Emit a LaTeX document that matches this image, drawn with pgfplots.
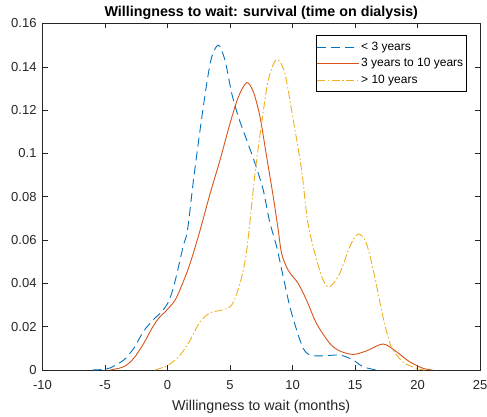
\documentclass[border=0pt]{standalone}
\usepackage{fontspec}
\setmainfont{Liberation Sans}
\usepackage{pgfplots}
\pgfplotsset{compat=1.18}

\definecolor{mlblue}{rgb}{0,0.447,0.741}
\definecolor{mlorange}{rgb}{0.85,0.325,0.098}
\definecolor{mlyellow}{rgb}{0.929,0.694,0.125}
\definecolor{axgray}{rgb}{0.15,0.15,0.15}

\begin{document}
\begin{tikzpicture}
\begin{axis}[
  scale only axis,
  width=437.5bp, height=346.5bp,
  xmin=-10, xmax=25, ymin=0, ymax=0.16,
  xtick={-10,-5,0,5,10,15,20,25},
  xticklabels={-10,-5,0,5,10,15,20,25},
  ytick={0,0.02,0.04,0.06,0.08,0.1,0.12,0.14,0.16},
  yticklabels={0,0.02,0.04,0.06,0.08,0.1,0.12,0.14,0.16},
  tick align=inside,
  major tick length=5bp,
  axis line style={axgray, line width=0.6bp},
  every tick/.style={axgray, line width=0.6bp},
  tick label style={font=\fontsize{13bp}{15bp}\selectfont, text=axgray},
  xticklabel style={anchor=base, inner sep=0pt, yshift=-19bp},
  yticklabel style={anchor=east, inner sep=0pt, xshift=-5.8bp},
  every axis title shift=0pt,
  title={Willingness to wait: survival (time on dialysis)},
  title style={font=\bfseries\fontsize{14.3bp}{16bp}\selectfont, at={(axis description cs:0.5,1)}, anchor=base, yshift=7bp, inner sep=0pt},
  xlabel={Willingness to wait (months)},
  xlabel style={font=\fontsize{14.3bp}{16bp}\selectfont, text=axgray, at={(axis description cs:0.5,0)}, anchor=base, yshift=-40bp, inner sep=0pt},
  legend cell align=left,
  legend style={
    at={(rel axis cs:1,1)}, anchor=north east, xshift=-14bp, yshift=-11.5bp,
    draw=black, line width=0.5bp,
    font=\fontsize{12bp}{14bp}\selectfont,
    inner xsep=1bp, inner ysep=3.5bp,
    row sep=0pt,
    nodes={inner xsep=1.5bp, inner ysep=2.5bp, text height=9bp, text depth=2.5bp},
  },
  legend image code/.code={\draw[#1] (0bp,0bp) -- (42bp,0bp);},
]

% < 3 years
\addplot[mlblue, line width=0.9bp, dash pattern=on 9bp off 5bp, smooth] coordinates {
(-6.0,0) (-5.0,0.0003) (-4.57,0.001) (-3.5,0.0046) (-2.7,0.010) (-1.9,0.018)
(-1.1,0.0234) (-0.45,0.027) (0.08,0.0315) (0.49,0.0384) (0.88,0.0477)
(1.28,0.0577) (1.6,0.0646) (2.08,0.0877) (2.61,0.111) (3.14,0.1323)
(3.54,0.1446) (4.07,0.150) (4.6,0.143) (5.14,0.1277) (5.67,0.1169)
(6.34,0.1061) (7.0,0.0954) (7.66,0.0831) (8.15,0.069) (8.73,0.0569)
(9.26,0.043) (9.79,0.0292) (10.33,0.0185) (10.86,0.010) (11.39,0.0069)
(12.45,0.0065) (13.78,0.0069) (14.85,0.0046) (15.64,0.0015) (16.7,0)
};
\addlegendentry{< 3 years}

% 3 years to 10 years
\addplot[mlorange, line width=0.9bp, smooth] coordinates {
(-4.6,0) (-3.5,0.0015) (-2.7,0.0054) (-1.9,0.0123) (-1.25,0.0192)
(-0.72,0.0238) (-0.05,0.0277) (0.61,0.0323) (1.15,0.0392) (1.81,0.0492)
(2.61,0.0646) (3.41,0.0815) (4.2,0.0969) (5.0,0.1138) (5.67,0.1261)
(6.34,0.1327) (6.87,0.1284) (7.4,0.1169) (7.93,0.0985) (8.46,0.080)
(8.86,0.0646) (9.13,0.0538) (9.66,0.046) (10.45,0.040) (11.12,0.0323)
(11.92,0.0215) (12.98,0.0123) (13.78,0.0088) (14.85,0.0072) (15.91,0.0088)
(17.24,0.012) (18.3,0.0085) (19.37,0.0038) (20.43,0.0008) (21.2,0)
};
\addlegendentry{3 years to 10 years}

% > 10 years
\addplot[mlyellow, line width=0.9bp, dash pattern=on 8bp off 2.5bp on 1.5bp off 2.5bp, smooth] coordinates {
(-1.0,0) (0.08,0.0023) (1.01,0.0069) (1.81,0.0138) (2.61,0.0223)
(3.41,0.0264) (4.34,0.0277) (5.14,0.030) (5.8,0.040) (6.34,0.0554)
(7.0,0.0907) (7.53,0.1138) (8.06,0.1338) (8.73,0.1434) (9.39,0.1369)
(10.06,0.1154) (10.73,0.0923) (11.2,0.069) (11.79,0.0538) (12.45,0.0415)
(12.98,0.0384) (13.78,0.0446) (14.58,0.0569) (15.25,0.0628) (15.91,0.0585)
(16.58,0.043) (17.24,0.0246) (17.9,0.0108) (18.83,0.0038) (19.9,0.0008)
(20.57,0)
};
\addlegendentry{> 10 years}

\end{axis}
\pgfresetboundingbox
\path ([shift={(-42.5bp,-47bp)}]current axis.south west) rectangle ([shift={(7bp,23.5bp)}]current axis.north east);
\end{tikzpicture}
\end{document}
